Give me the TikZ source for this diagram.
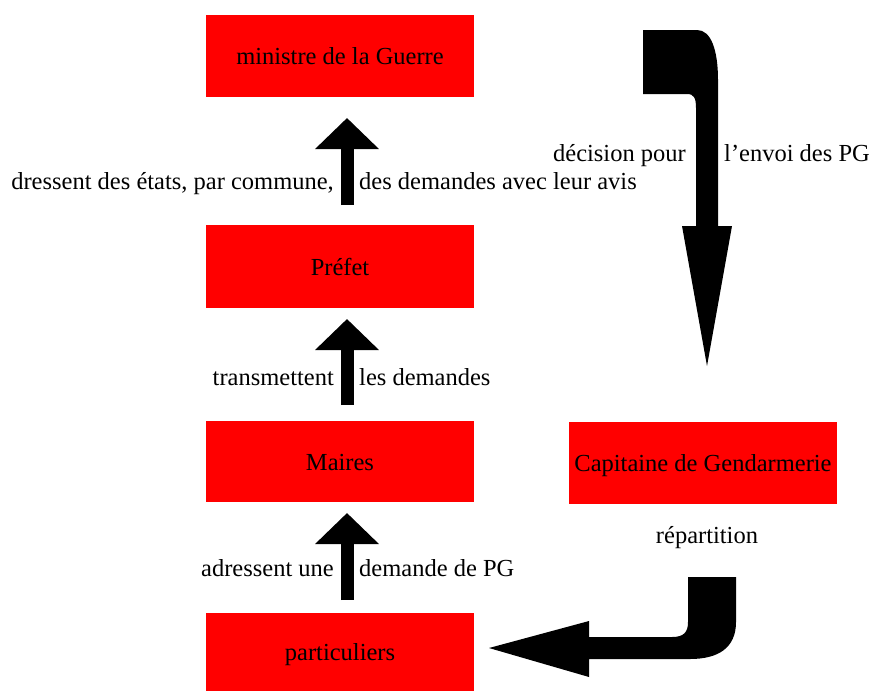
\documentclass[tikz,border=0pt]{standalone}
\usepackage{fontspec}
\setmainfont{Liberation Serif}
\usetikzlibrary{arrows.meta}
\begin{document}
\begin{tikzpicture}[x=1pt,y=-1pt,
  box/.style={fill=red, draw=none, minimum width=268pt, minimum height=82pt,
    inner sep=0pt, font=\fontsize{24.5}{29}\selectfont, text height=17pt, text depth=0pt},
  lbl/.style={inner sep=0pt, font=\fontsize{24.5}{29}\selectfont},
  uparrow/.style={line width=13pt, -{Triangle[width=62pt,length=31pt]}},
  bigarrow/.style={fill=black, draw=none}]
\path[use as bounding box] (0,0) rectangle (874,691);

% boxes
\node[box] (min) at (340,56) {ministre de la Guerre};
\node[box, minimum height=83pt] (pref) at (340,266.5) {Préfet};
\node[box, minimum height=81pt] (maires) at (340,461.5) {Maires};
\node[box, minimum height=78pt] (part) at (340,652) {particuliers};
\node[box] (cap) at (703,463) {Capitaine de Gendarmerie};

% vertical up arrows
\coordinate (a1s) at (347,205);
\coordinate (a1e) at (347,118);
\coordinate (a2s) at (347,405);
\coordinate (a2e) at (347,319);
\coordinate (a3s) at (347,600);
\coordinate (a3e) at (347,513);
\draw[uparrow] (a1s) -- (a1e);
\draw[uparrow] (a2s) -- (a2e);
\draw[uparrow] (a3s) -- (a3e);

% labels
\node[lbl, anchor=base east] (l1a) at (334,189) {dressent des états, par commune,};
\node[lbl, anchor=base west] (l1b) at (359,189) {des demandes avec leur avis};
\node[lbl, anchor=base east] (l2a) at (334,385) {transmettent};
\node[lbl, anchor=base west] (l2b) at (359,385) {les demandes};
\node[lbl, anchor=base east] (l3a) at (334,576) {adressent une};
\node[lbl, anchor=base west] (l3b) at (359,576) {demande de PG};
\node[lbl, anchor=base east] (l4a) at (686,161) {décision pour};
\node[lbl, anchor=base west] (l4b) at (724,161) {l’envoi des PG};
\node[lbl, anchor=base] (l5) at (707,543) {répartition};

% big bent arrow (top right)
\fill[bigarrow] (643,30) -- (697,30)
  .. controls (711,30) and (718,50) .. (718,80)
  -- (718,226) -- (732,226) -- (707,366) -- (682,226) -- (696,226)
  -- (696,108) .. controls (696,98) and (694,94) .. (687,94)
  -- (643,94) -- cycle;

% bent arrow (bottom right)
\fill[bigarrow] (688,577) -- (736,577) -- (736,622)
  .. controls (736,648) and (718,659) .. (690,659)
  -- (589,659) -- (589,677) -- (489,648) -- (589,621) -- (589,637)
  -- (672,637) .. controls (684,637) and (688,632) .. (688,622)
  -- cycle;
\end{tikzpicture}
\end{document}
